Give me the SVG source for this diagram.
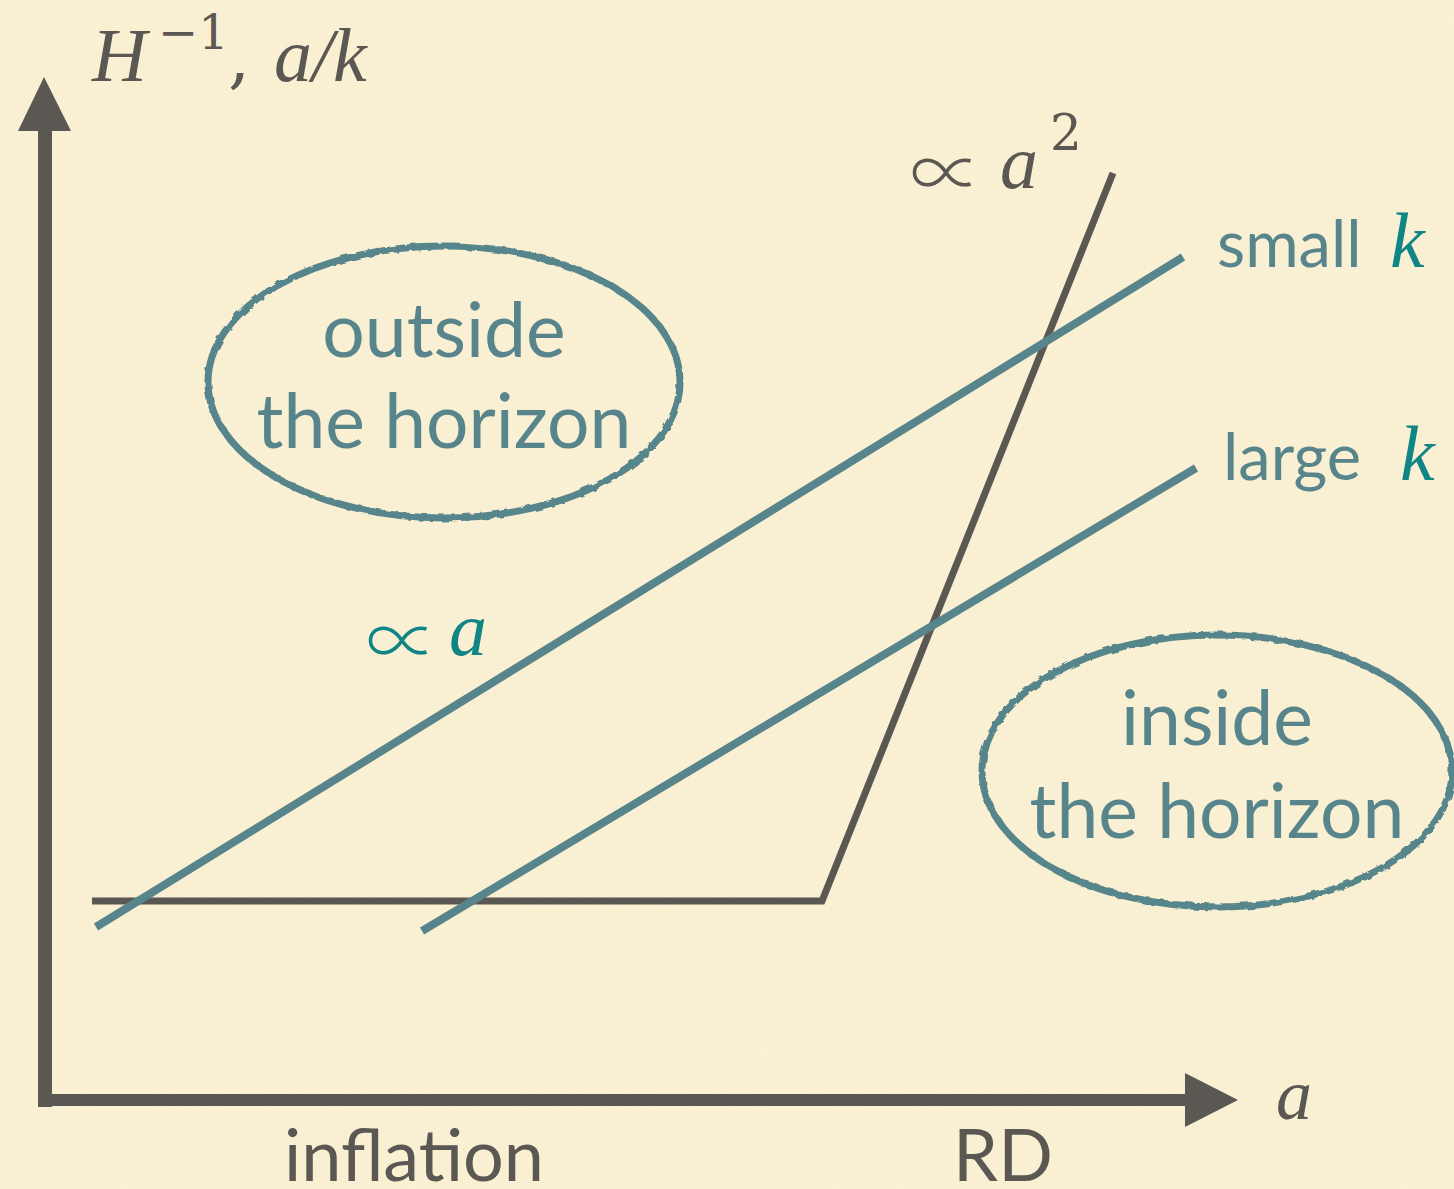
<svg xmlns="http://www.w3.org/2000/svg" width="1454" height="1189" viewBox="0 0 1454 1189">
<style>
.dark{stroke:#5b5752;fill:none}
.teal{stroke:#57858b;fill:none}
.sans{font-family:Lato,"Open Sans","Liberation Sans",sans-serif}
.math{font-family:"Liberation Serif","DejaVu Serif",serif;font-style:italic}
.sym{font-family:"DejaVu Serif","Liberation Serif",serif;font-style:normal}
.prop{font-family:"Noto Sans CJK JP","DejaVu Sans",sans-serif;font-weight:300}
</style>
<defs>
<filter id="rough" x="-5%" y="-5%" width="110%" height="110%">
<feTurbulence type="fractalNoise" baseFrequency="0.12" numOctaves="2" seed="3"/>
<feDisplacementMap in="SourceGraphic" scale="4"/>
</filter>
<filter id="paper" x="0" y="0" width="100%" height="100%">
<feTurbulence type="fractalNoise" baseFrequency="0.6" numOctaves="2" seed="7" result="n"/>
<feColorMatrix in="n" type="matrix" values="0 0 0 0 0.55  0 0 0 0 0.5  0 0 0 0 0.35  0 0 0 0.06 0"/>
</filter>
</defs>
<rect width="1454" height="1189" fill="#fbf1d4"/>
<rect width="1454" height="1189" filter="url(#paper)"/>

<g id="axes">
<path d="M45 1107 V126" class="dark" stroke-width="14"/>
<polygon points="44,77 18,131 71,131" fill="#5b5752"/>
<path d="M38 1100 H1190" class="dark" stroke-width="12"/>
<polygon points="1238,1100 1185,1073 1185,1127" fill="#5b5752"/>
<text x="92" y="81" class="math" font-size="76" fill="#5b5752">H</text>
<text x="158" y="49" class="sym" font-size="48" fill="#5b5752">−1</text>
<text x="228" y="81" class="sym" font-size="70" fill="#5b5752">,</text>
<text x="274" y="81" class="math" font-size="76" fill="#5b5752">a/k</text>
<text x="1276" y="1119" class="math" font-size="72" fill="#5b5752">a</text>
</g>

<g id="connectors">
<path id="hubble" d="M92 901 H822 L1113 173" class="dark" stroke-width="7"/>
<path id="small-k" d="M96 927 L1183 257" class="teal" stroke-width="8"/>
<path id="large-k" d="M422 931 L1196 468" class="teal" stroke-width="8"/>
</g>

<g id="label-a2">
<text x="910" y="199" class="prop" font-size="72" fill="#5b5752">∝</text>
<text x="1000" y="188" class="math" font-size="76" fill="#5b5752">a</text>
<text x="1050" y="150" class="sym" font-size="50" fill="#5b5752">2</text>
</g>

<g id="label-a">
<text x="366" y="667" class="prop" font-size="72" fill="#0f8585">∝</text>
<text x="449" y="655" class="math" font-size="76" fill="#0f8585">a</text>
</g>

<g id="label-small-k">
<text x="1217" y="267" class="sans" font-size="65" fill="#57858b">small</text>
<text x="1390" y="267" class="math" font-size="78" fill="#0f8585">k</text>
</g>

<g id="label-large-k">
<text x="1223" y="480" class="sans" font-size="65" fill="#57858b">large</text>
<text x="1400" y="480" class="math" font-size="78" fill="#0f8585">k</text>
</g>

<g id="outside">
<ellipse cx="444" cy="382" rx="236" ry="136" class="teal" stroke-width="7" filter="url(#rough)"/>
<text x="444" y="357" class="sans" font-size="75" fill="#57858b" text-anchor="middle">outside</text>
<text x="444" y="448" class="sans" font-size="75" fill="#57858b" text-anchor="middle">the horizon</text>
</g>

<g id="inside">
<ellipse cx="1217" cy="771" rx="235" ry="136" class="teal" stroke-width="7" filter="url(#rough)"/>
<text x="1217" y="745" class="sans" font-size="75" fill="#57858b" text-anchor="middle">inside</text>
<text x="1217" y="838" class="sans" font-size="75" fill="#57858b" text-anchor="middle">the horizon</text>
</g>

<g id="phase-labels">
<text x="414" y="1181" class="sans" font-size="72" fill="#5b5752" text-anchor="middle">inflation</text>
<text x="1003" y="1181" class="sans" font-size="72" fill="#5b5752" text-anchor="middle">RD</text>
</g>
</svg>
